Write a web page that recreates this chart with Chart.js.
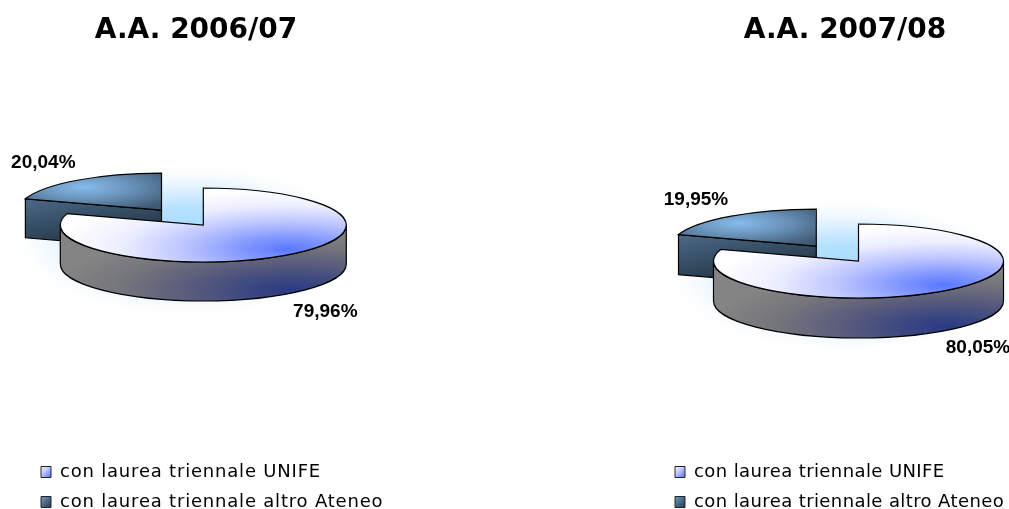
<!DOCTYPE html>
<html><head><meta charset="utf-8">
<style>
html,body{margin:0;padding:0;background:#fff;width:1009px;height:509px;overflow:hidden}
canvas{position:absolute;top:0}
#a{left:0}#b{left:640px}
</style>
<script src="https://cdn.jsdelivr.net/npm/chart.js@4"></script>
</head><body>
<canvas id="a" width="400" height="521" style="width:400px;height:521px"></canvas>
<canvas id="b" width="387" height="521" style="width:387px;height:521px"></canvas>
<script>
const categories = ['con laurea triennale UNIFE', 'con laurea triennale altro Ateneo'];
const titleA = 'A.A. 2006/07';
const titleB = 'A.A. 2007/08';
const valuesA = [79.96, 20.04];
const valuesB = [80.05, 19.95];
const labelsA = ['79,96%', '20,04%'];
const labelsB = ['80,05%', '19,95%'];

function local(g, X, Y){ // offset in screen px from pie centre -> unflattened chart coords
  return [g.cx + X, g.cy + Y / g.k];
}
function radial(ctx, g, X, Y, R, stops){
  const p = local(g, X, Y);
  const gr = ctx.createRadialGradient(p[0], p[1], 0, p[0], p[1], R);
  stops.forEach(s => gr.addColorStop(s[0], s[1]));
  return gr;
}
// the library moves an exploded slice by offset/4 and enlarges it slightly
const shift = a => (a.options.offset || 0) / 4;
const growth = (a, off) => off * (1 - Math.sin(Math.min(Math.PI, a.endAngle - a.startAngle)));
const pie3d = {
  id: 'pie3d',
  afterDatasetsUpdate(chart, args, o){
    chart.getDatasetMeta(0).data.forEach(a => {
      a.outerRadius = o.r - growth(a, shift(a));
    });
  },
  afterLayout(chart, args, o){
    const leg = chart.legend;
    if (!leg) return;
    leg.right = chart.width; // long second row must not be clipped by the legend box
    if (!leg.$spaced) {
      leg.$spaced = true;
      const draw = leg.draw.bind(leg);
      leg.draw = function(){
        chart.ctx.letterSpacing = o.legendSpacing;
        draw();
        chart.ctx.letterSpacing = '0px';
      };
    }
  },
  beforeDatasetsDraw(chart, args, o){
    const ctx = chart.ctx, arcs = chart.getDatasetMeta(0).data;
    const g = {cx: arcs[0].x, cy: arcs[0].y, k: o.ry / o.r};
    // soft glow
    ctx.save();
    ctx.translate(o.tx - 15, o.ty + 15);
    ctx.scale(1, 0.44);
    const gl = ctx.createRadialGradient(0, 0, 0, 0, 0, 182);
    gl.addColorStop(0, '#a0d8ff'); gl.addColorStop(.4, '#b6e1ff');
    gl.addColorStop(.75, '#f0f8ff'); gl.addColorStop(1, 'rgba(255,255,255,0)');
    ctx.fillStyle = gl;
    ctx.beginPath(); ctx.arc(0, 0, 182, 0, Math.PI * 2); ctx.fill();
    ctx.restore();
    // apply flattening
    ctx.save();
    ctx.translate(o.tx, o.ty); ctx.scale(1, g.k); ctx.translate(-g.cx, -g.cy);
    const dz = o.depth / g.k;
    for (let i = arcs.length - 1; i >= 0; i--) {
      const a = arcs[i], off = shift(a);
      const mid = (a.startAngle + a.endAngle) / 2;
      const x = a.x + Math.cos(mid) * off, y = a.y + Math.sin(mid) * off, r = o.r;
      const fill = i === 0
        ? radial(ctx, g, 88, 66, 235, [[0, '#2a3a84'], [.2, '#3c4880'], [.45, '#5a5c7c'], [.72, '#74747c'], [1, '#848484']])
        : (() => { const p = local(g, -190, -30), q = local(g, -20, 30);
            const l = ctx.createLinearGradient(p[0], p[1], q[0], q[1]);
            l.addColorStop(0, '#4f6e8e'); l.addColorStop(.5, '#2f4559'); l.addColorStop(1, '#141b22'); return l; })();
      const paths = [];
      const s = a.startAngle, e = a.endAngle;
      const from = Math.max(s, 0), to = Math.min(e, Math.PI);
      if (to > from) paths.push(c => { c.arc(x, y, r, from, to); c.arc(x, y + dz, r, to, from, true); c.closePath(); });
      [[s, Math.cos(s) < -1e-3], [e, Math.cos(e) > 1e-3]].forEach(([ang, vis]) => {
        if (!vis) return;
        const ex = x + Math.cos(ang) * r, ey = y + Math.sin(ang) * r;
        paths.push(c => { c.moveTo(x, y); c.lineTo(ex, ey); c.lineTo(ex, ey + dz); c.lineTo(x, y + dz); c.closePath(); });
      });
      paths.forEach(p => {
        ctx.beginPath(); p(ctx); ctx.fillStyle = fill; ctx.fill();
        const t = ctx.getTransform(); ctx.setTransform(1, 0, 0, 1, 0, 0);
        ctx.lineWidth = o.line; ctx.strokeStyle = '#000'; ctx.stroke(); ctx.setTransform(t);
      });
    }
    // flattening stays active while the library draws the arcs
  },
  afterDatasetsDraw(chart, args, o){
    const ctx = chart.ctx, arcs = chart.getDatasetMeta(0).data;
    arcs.forEach(a => {
      const off = shift(a), mid = (a.startAngle + a.endAngle) / 2;
      const x = a.x + Math.cos(mid) * off, y = a.y + Math.sin(mid) * off;
      ctx.beginPath(); ctx.moveTo(x, y); ctx.arc(x, y, o.r, a.startAngle, a.endAngle); ctx.closePath();
      const t = ctx.getTransform(); ctx.setTransform(1, 0, 0, 1, 0, 0);
      ctx.lineWidth = o.line; ctx.strokeStyle = '#000'; ctx.stroke(); ctx.setTransform(t);
    });
    ctx.restore();
    // value labels
    ctx.save();
    ctx.font = 'bold 19px "Liberation Sans"';
    ctx.fillStyle = '#000'; ctx.textAlign = 'center'; ctx.textBaseline = 'middle';
    o.labels.forEach((t, i) => ctx.fillText(t, o.tx + o.labelPos[i][0], o.ty + o.labelPos[i][1]));
    ctx.restore();
  }
};

function makeChart(id, values, title, labels, o){
  const el = document.getElementById(id);
  const c = el.getContext('2d');
  const sw = (x, y, a, b, m) => { const l = c.createLinearGradient(x, y, x + 11, y + 11);
    l.addColorStop(0, a); l.addColorStop(.5, m); l.addColorStop(1, b); return l; };
  const swatches = [sw(o.swX, o.swY[0], '#ffffff', '#6a80ff', '#ccd2ff'), sw(o.swX, o.swY[1], '#7fb0de', '#2f4356', '#55789a')];
  new Chart(c, {
    type: 'pie',
    data: {labels: categories, datasets: [{
      data: values,
      clip: false,
      borderWidth: 0,
      offset: [0, o.explode * 4],
      backgroundColor: (cx) => {
        const ar = cx.chart.chartArea;
        const g = {cx: (ar.left + ar.right) / 2, cy: (ar.top + ar.bottom) / 2, k: o.ry / o.r};
        return cx.dataIndex === 0
          ? radial(c, g, 84, 24, 232, [[0, '#5a78ff'], [.2, '#8398ff'], [.45, '#bcc5ff'], [.72, '#eceeff'], [1, '#ffffff']])
          : radial(c, g, -77, -23, 100, [[0, '#86bbec'], [.45, '#6b94bb'], [1, '#3f5a74']]);
      }
    }]},
    options: {
      responsive: false, animation: false, devicePixelRatio: 1, events: [],
      radius: o.r,
      layout: {padding: o.pad},
      plugins: {
        tooltip: {enabled: false},
        title: {display: true, text: title, color: '#000', padding: {top: 14, bottom: 0},
          font: {family: '"DejaVu Sans"', size: 28, weight: 'bold'}},
        legend: {display: true, position: 'bottom', align: 'start',
          labels: {color: '#000', boxWidth: 10, boxHeight: 11, padding: 12,
            font: {family: '"DejaVu Sans"', size: 18},
            generateLabels: () => categories.map((t, i) => ({text: t, fillStyle: swatches[i], strokeStyle: '#222', lineWidth: 1, index: i}))
          }},
        pie3d: o
      }
    },
    plugins: [pie3d]
  });
}
makeChart('a', valuesA, titleA, labelsA, {
  tx: 203.3, ty: 225, r: 143, ry: 37, depth: 39, explode: 71, line: 1.2, labels: labelsA,
  labelPos: [[122, 87], [-160, -62]], pad: {left: 29, right: 37, bottom: 0, top: 0},
  legendSpacing: '0.8px', swX: 41, swY: [463, 493]
});
makeChart('b', valuesB, titleB, labelsB, {
  tx: 858.5 - 640, ty: 261, r: 145, ry: 37, depth: 40, explode: 72, line: 1.2, labels: labelsB,
  labelPos: [[119.5, 87], [-162.5, -61]], pad: {left: 23, right: 0, bottom: 0, top: 0},
  legendSpacing: '0.4px', swX: 35, swY: [463, 493]
});
</script>
</body></html>
